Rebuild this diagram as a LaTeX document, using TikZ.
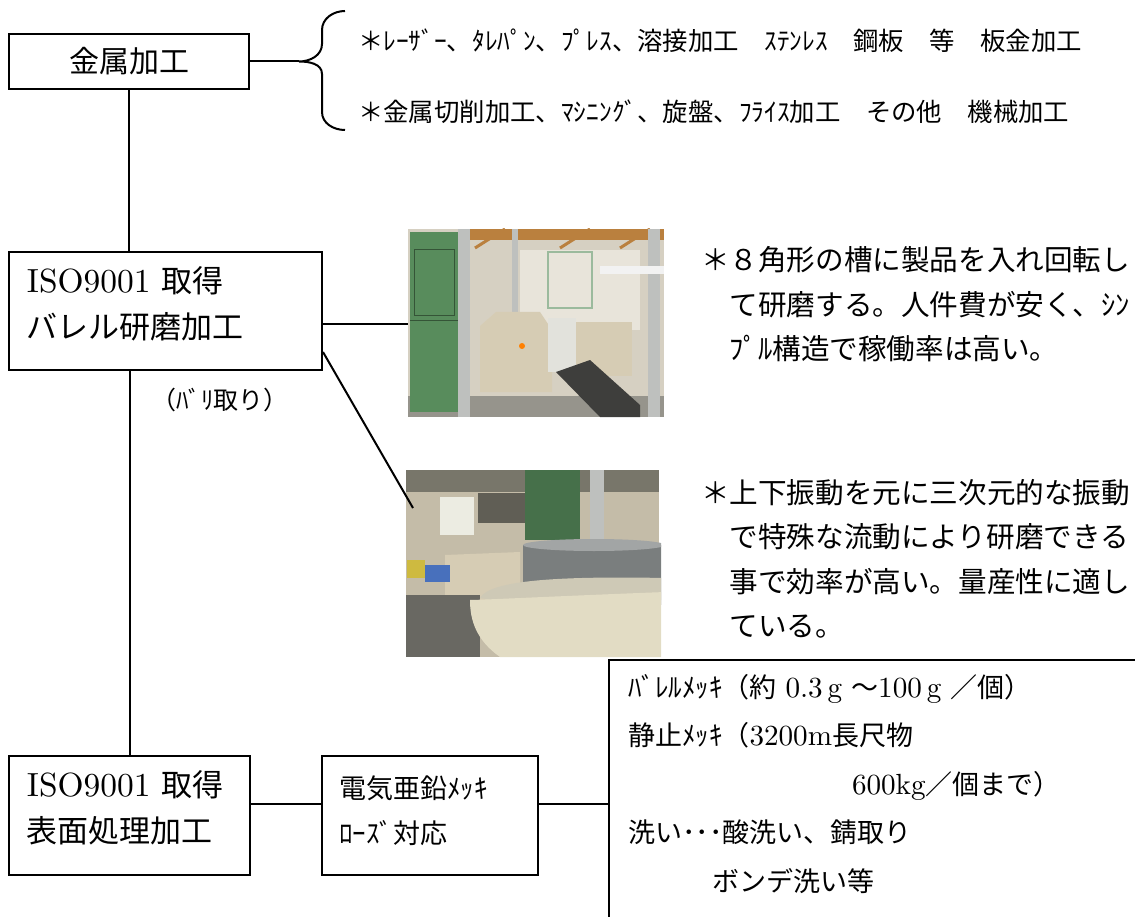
\documentclass[tikz,border=0pt]{standalone}
\usepackage{fontspec}
\newfontfamily\jp{Noto Sans CJK JP}
\newfontfamily\lmr{lmroman10-regular.otf}[Scale=1.08]
\newcommand\lat[1]{{\lmr #1}}
\usetikzlibrary{calc}

\definecolor{beam}{RGB}{186,128,62}
\definecolor{ceilpale}{RGB}{232,228,218}
\definecolor{wallA}{RGB}{214,208,194}
\definecolor{cabinet}{RGB}{88,140,92}
\definecolor{steel}{RGB}{190,192,190}
\definecolor{machine}{RGB}{214,204,180}
\definecolor{panel}{RGB}{226,226,220}
\definecolor{belt}{RGB}{62,62,60}
\definecolor{floorA}{RGB}{150,148,140}
\definecolor{wallB}{RGB}{196,188,168}
\definecolor{ceilB}{RGB}{120,118,106}
\definecolor{tankgray}{RGB}{122,126,126}
\definecolor{bowl}{RGB}{226,220,196}
\definecolor{binyellow}{RGB}{206,186,64}
\definecolor{binblue}{RGB}{72,112,188}
\definecolor{window}{RGB}{236,236,226}

\begin{document}
\begin{tikzpicture}[x=1pt, y=-1pt, line width=2pt,
    box/.style={draw, rectangle, inner xsep=18pt, inner ysep=0pt, anchor=north west, align=left},
    gothic/.style={inner sep=0pt, anchor=base west, font=\jp\fontsize{25.4}{30}\selectfont},
    desc/.style={inner sep=0pt, anchor=base west, align=left, text width=440pt, font=\jp\fontsize{28.6}{44.5}\selectfont},
    photo/.style={inner sep=0pt, anchor=north west}]
\useasboundingbox (0,0) rectangle (1135,917);
\clip (0,0) rectangle (1135,917);

% METAL WORKING
\node[box, align=center, inner sep=0pt, minimum width=240pt, minimum height=55pt, font=\jp\fontsize{30}{36}\selectfont] (metal) at (8,33) {金属加工};
\coordinate (tip) at ($(metal.east)+(49,0)$);
\draw (345,11) to[out=180,in=90] (322,30) -- (322,44) to[out=-90,in=0] (tip) to[out=0,in=90] (322,74) -- (322,112) to[out=-90,in=180] (345,130);
\draw (metal.east) -- (tip);
\node[gothic] (sheet) at (357,51) {＊ﾚｰｻﾞｰ、ﾀﾚﾊﾟﾝ、ﾌﾟﾚｽ、溶接加工　ｽﾃﾝﾚｽ　鋼板　等　板金加工};
\node[gothic] (machining) at (357,122) {＊金属切削加工、ﾏｼﾆﾝｸﾞ、旋盤、ﾌﾗｲｽ加工　その他　機械加工};

% BARREL POLISHING
\node[box, text width=277pt, text height=41pt, text depth=77pt, font=\jp\fontsize{31}{46}\selectfont] (barrel) at (8,251) {\lat{ISO9001} 取得\\バレル研磨加工};
\node[inner sep=0pt, anchor=base west, font=\jp\fontsize{25}{30}\selectfont] (burr) at (150,409) {（ﾊﾞﾘ取り）};
\draw (metal.south) -- (metal.south |- barrel.north);

% PHOTO A
\node[photo, minimum width=256pt, minimum height=188pt] (photoA) at (408,229) {};
\begin{scope}
  \clip (photoA.north west) rectangle (photoA.south east);
  \fill[wallA] (408,229) rectangle (664,417);
  \fill[beam] (462,229) rectangle (664,240);
  \draw[beam, line width=3pt] (475,248) -- (505,229) (560,248) -- (590,229) (620,248) -- (650,229);
  \fill[ceilpale] (520,250) rectangle (640,330);
  \fill[floorA] (408,396) rectangle (664,417);
  \fill[cabinet] (410,232) rectangle (458,412);
  \draw[cabinet!60!black, line width=1pt] (410,320) -- (458,320) (414,250) rectangle (454,316);
  \fill[steel] (458,229) rectangle (470,417);
  \fill[steel] (512,229) rectangle (518,330);
  \fill[steel] (648,229) rectangle (660,417);
  \draw[cabinet!60!white, line width=2pt] (548,252) rectangle (592,308);
  \fill[white!90!gray] (600,266) rectangle (664,274);
  \fill[machine] (480,326) -- (496,312) -- (540,312) -- (552,330) -- (552,392) -- (480,392) -- cycle;
  \fill[orange] (522,346) circle (3);
  \fill[panel] (548,318) rectangle (576,372);
  \fill[machine] (576,322) rectangle (632,376);
  \fill[belt] (556,372) -- (590,360) -- (640,405) -- (640,417) -- (600,417) -- cycle;
\end{scope}
\draw (photoA.west -| barrel.east) -- (photoA.west);

% PHOTO B
\node[photo, minimum width=253pt, minimum height=187pt] (photoB) at (406,470) {};
\begin{scope}
  \clip (photoB.north west) rectangle (photoB.south east);
  \fill[wallB] (406,470) rectangle (659,657);
  \fill[ceilB] (406,470) rectangle (659,492);
  \fill[window] (440,497) rectangle (474,535);
  \fill[cabinet!80!black] (525,470) rectangle (580,540);
  \fill[steel] (590,470) rectangle (604,560);
  \fill[ceilB!80!black] (478,493) rectangle (525,523);
  \fill[machine] (445,555) -- (520,552) -- (520,600) -- (445,600) -- cycle;
  \fill[binyellow] (407,560) rectangle (425,578);
  \fill[binblue] (425,565) rectangle (450,582);
  \fill[floorA!70!black] (406,595) rectangle (480,657);
  \fill[tankgray] (523,545) rectangle (665,605);
  \fill[tankgray!70!white] (594,545) ellipse (71 and 6);
  \fill[bowl!80!gray] (480,598) .. controls (490,580) and (560,576) .. (665,578) -- (665,600) -- (520,604) -- cycle;
  \fill[bowl] (470,600) .. controls (480,600) and (560,596) .. (665,592) -- (665,657) -- (500,657) .. controls (476,640) and (470,620) .. (470,600) -- cycle;
\end{scope}
\coordinate (barrelcorner) at ($(barrel.south east)+(0,-19)$);
\coordinate (photoBin) at (413,508);
\draw (barrelcorner) -- (photoBin);

% DESCRIPTIONS
\node[desc] (octagon) at (700,271) {＊８角形の槽に製品を入れ回転し\\　て研磨する。人件費が安く、ｼﾝ\\　ﾌﾟﾙ構造で稼働率は高い。};
\node[desc] (vibro) at (700,503) {＊上下振動を元に三次元的な振動\\　で特殊な流動により研磨できる\\　事で効率が高い。量産性に適し\\　ている。};

% SURFACE TREATMENT
\node[box, text width=205pt, text height=40pt, text depth=79pt, font=\jp\fontsize{31}{46}\selectfont] (surface) at (8,755) {\lat{ISO9001} 取得\\表面処理加工};
\draw (barrel.south -| surface.north) -- (surface.north);
\node[box, inner xsep=17pt, text width=182pt, text height=42pt, text depth=77pt, font=\jp\fontsize{27}{45}\selectfont] (zinc) at (321,755) {電気亜鉛ﾒｯｷ\\ﾛｰｽﾞ対応};
\node[box, inner xsep=19pt, text width=600pt, text height=37pt, text depth=300pt, font=\jp\fontsize{27}{48.5}\selectfont] (plating) at (608,659) {ﾊﾞﾚﾙﾒｯｷ（約 \lat{0.3\,g} ～\lat{100\,g} ／個）\\静止ﾒｯｷ（\lat{3200m}長尺物\\\hspace*{224pt}\lat{600kg}／個まで）\\洗い･･･酸洗い、錆取り\\\hspace*{84pt}ボンデ洗い等};
\coordinate (link) at ($(surface.east)+(0,-11.5)$);
\draw (link) -- (link -| zinc.west);
\draw (link -| zinc.east) -- (link -| plating.west);
\end{tikzpicture}
\end{document}
